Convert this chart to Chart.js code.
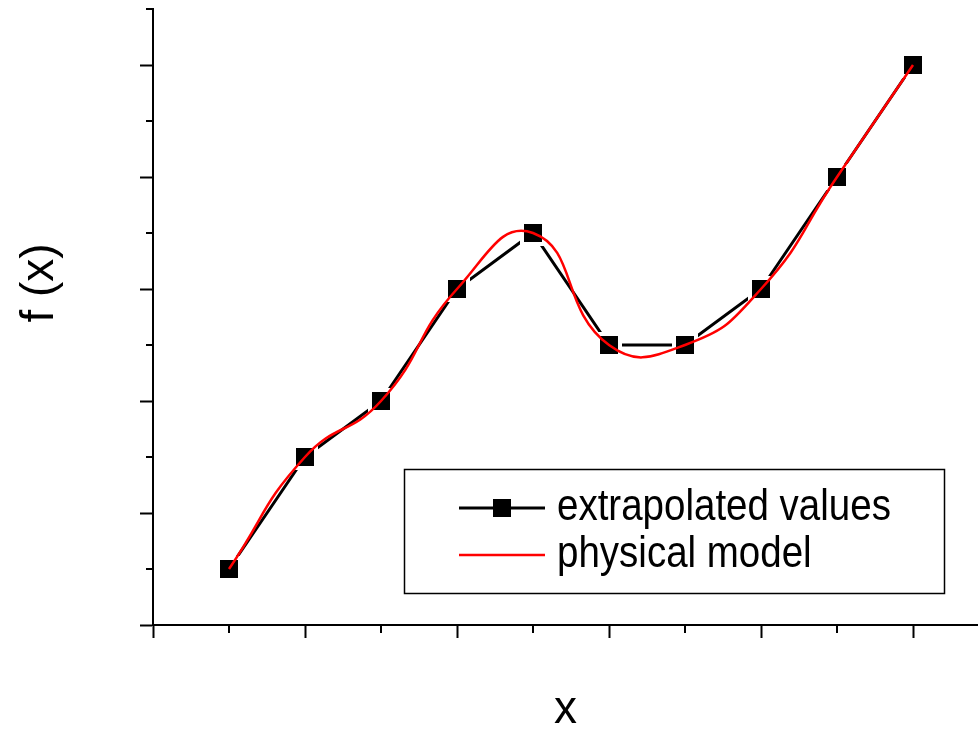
<!DOCTYPE html>
<html>
<head>
<meta charset="utf-8">
<script src="https://cdn.jsdelivr.net/npm/chart.js@4.4.1/dist/chart.umd.min.js"></script>
<style>
html, body { margin: 0; padding: 0; background: #fff; }
#wrap { width: 978px; height: 732px; position: relative; }
</style>
</head>
<body>
<div id="wrap"><canvas id="c"></canvas></div>
<script>
// ---- data ----
const xValues = [1, 2, 3, 4, 5, 6, 7, 8, 9, 10];
const extrapolatedValues = [1, 3, 4, 6, 7, 5, 5, 6, 8, 10];
const physicalModelValues = [1, 3, 4, 6, 7, 5, 5, 6, 8, 10];
const seriesLabels = ['extrapolated values', 'physical model'];
const xTitle = 'x';
const yTitle = 'f (x)';
const xMajorTicks = [0, 2, 4, 6, 8, 10];
const xMinorTicks = [1, 3, 5, 7, 9];
const yMajorTicks = [0, 2, 4, 6, 8, 10];
const yMinorTicks = [1, 3, 5, 7, 9, 11];
const xRange = [0, 825 / 76];
const yRange = [0, 11];

const FONT = "'Liberation Sans', Arial, Helvetica, sans-serif";

function makeMarker(size, margin) {
  const c = document.createElement('canvas');
  c.width = c.height = size + 2 * margin;
  const g = c.getContext('2d');
  if (margin > 0) { g.fillStyle = '#ffffff'; g.fillRect(0, 0, c.width, c.height); }
  g.fillStyle = '#000000';
  g.fillRect(margin, margin, size, size);
  return c;
}
const markerWithGap = makeMarker(18, 4);

const overlay = {
  id: 'overlay',
  afterDraw(chart) {
    const ctx = chart.ctx;
    const xs = chart.scales.x, ys = chart.scales.y;
    ctx.save();
    // minor ticks
    ctx.strokeStyle = '#000';
    ctx.lineWidth = 2;
    xMinorTicks.forEach(v => {
      const px = Math.round(xs.getPixelForValue(v));
      ctx.beginPath(); ctx.moveTo(px, ys.bottom); ctx.lineTo(px, ys.bottom + 8); ctx.stroke();
    });
    yMinorTicks.forEach(v => {
      const py = Math.round(ys.getPixelForValue(v));
      ctx.beginPath(); ctx.moveTo(xs.left, py); ctx.lineTo(xs.left - 7, py); ctx.stroke();
    });
    // y axis title
    ctx.fillStyle = '#000';
    ctx.font = '46px ' + FONT;
    ctx.textAlign = 'center';
    ctx.textBaseline = 'alphabetic';
    ctx.save();
    ctx.translate(53, 283);
    ctx.rotate(-Math.PI / 2);
    ctx.fillText(yTitle, 0, 0);
    ctx.restore();

    // legend
    const ds = chart.data.datasets;
    ctx.lineWidth = 1.5;
    ctx.strokeStyle = '#000';
    ctx.strokeRect(404.5, 469.5, 540, 124);
    const rows = [508, 555];
    ds.forEach((d, i) => {
      const y = rows[i];
      ctx.strokeStyle = d.borderColor;
      ctx.lineWidth = d.borderWidth;
      ctx.beginPath(); ctx.moveTo(459, y); ctx.lineTo(545, y); ctx.stroke();
      if (d.legendMarker) {
        ctx.fillStyle = '#000';
        ctx.fillRect(493, y - 9, 18, 18);
      }
      ctx.save();
      ctx.fillStyle = '#000';
      ctx.font = '38.5px ' + FONT;
      ctx.textAlign = 'left';
      ctx.textBaseline = 'alphabetic';
      ctx.translate(557, y + 12);
      ctx.scale(1, 1.15);
      ctx.fillText(d.label, 0, 0);
      ctx.restore();
    });
    ctx.restore();
  }
};

const axisCommon = {
  type: 'linear',
  grid: {
    display: true,
    drawOnChartArea: false,
    drawTicks: true,
    tickLength: 13,
    tickWidth: 2,
    tickColor: '#000',
    color: '#000'
  },
  border: { display: true, color: '#000', width: 2 },
  ticks: { display: false, includeBounds: false }
};

new Chart(document.getElementById('c'), {
  type: 'line',
  data: {
    datasets: [
      {
        label: seriesLabels[0],
        data: xValues.map((x, i) => ({ x: x, y: extrapolatedValues[i] })),
        borderColor: '#000000',
        borderWidth: 3,
        pointStyle: markerWithGap,
        pointRadius: 13,
        pointHoverRadius: 13,
        tension: 0,
        order: 2,
        legendMarker: true
      },
      {
        label: seriesLabels[1],
        data: xValues.map((x, i) => ({ x: x, y: physicalModelValues[i] })),
        borderColor: '#ff0000',
        borderWidth: 2.5,
        pointRadius: 0,
        pointHoverRadius: 0,
        tension: 0.5,
        order: 1,
        legendMarker: false
      }
    ]
  },
  options: {
    responsive: true,
    maintainAspectRatio: false,
    animation: false,
    devicePixelRatio: 1,
    events: [],
    layout: { autoPadding: false, padding: { top: 9, left: 0, right: 0, bottom: 0 } },
    plugins: { legend: { display: false }, tooltip: { enabled: false } },
    scales: {
      x: Object.assign({}, axisCommon, {
        position: 'bottom',
        min: xRange[0], max: xRange[1],
        afterBuildTicks: s => { s.ticks = xMajorTicks.map(v => ({ value: v })); },
        afterFit: s => { s.height = 107; },
        title: {
          display: true, text: xTitle, color: '#000',
          font: { family: FONT, size: 46, lineHeight: 0.95 },
          padding: { top: 0, bottom: 0 }
        }
      }),
      y: Object.assign({}, axisCommon, {
        position: 'left',
        min: yRange[0], max: yRange[1],
        afterBuildTicks: s => { s.ticks = yMajorTicks.map(v => ({ value: v })); },
        afterFit: s => { s.width = 153; },
        title: { display: false }
      })
    }
  },
  plugins: [overlay]
});
</script>
</body>
</html>
